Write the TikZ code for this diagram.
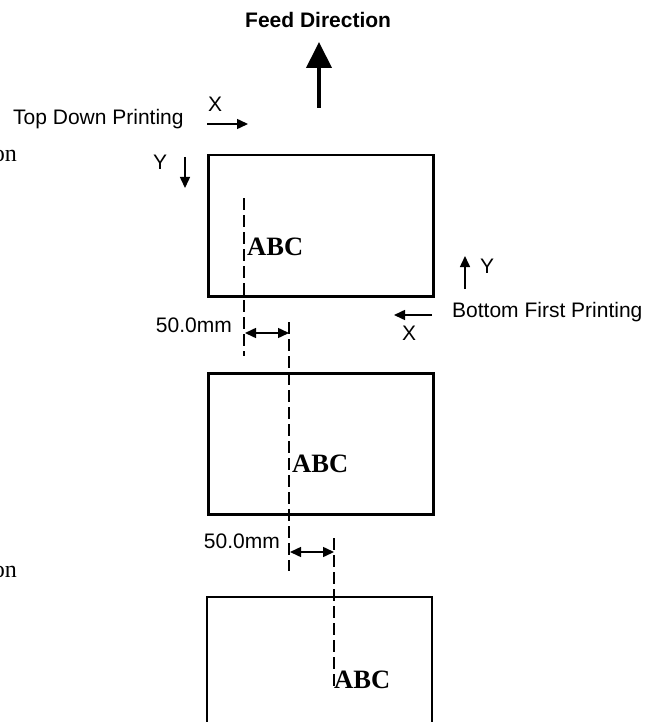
\documentclass[tikz,border=0pt]{standalone}
\usepackage{fontspec}
\setmainfont{Liberation Serif}
\setsansfont{Liberation Sans}
\usetikzlibrary{arrows.meta}
\begin{document}
\begin{tikzpicture}[x=1pt,y=-1pt,
  lbl/.style={inner sep=0pt,anchor=base west,font=\sffamily\fontsize{21}{21}\selectfont},
  abc/.style={inner sep=0pt,anchor=base west,font=\rmfamily\bfseries\fontsize{26.5}{26.5}\selectfont},
  cut/.style={inner sep=0pt,anchor=base east,font=\rmfamily\fontsize{24}{24}\selectfont},
  label box/.style={draw,line width=2.5pt},
  guide/.style={line width=1.4pt,dash pattern=on 12pt off 5pt},
  smallarrow/.style={line width=1.5pt,-{Triangle[length=11pt,width=10pt]}},
  dimarrow/.style={line width=1.5pt,{Triangle[length=11pt,width=10pt]}-{Triangle[length=11pt,width=10pt]}},
  feedarrow/.style={line width=4pt,-{Triangle[length=26pt,width=25pt]}}]
\useasboundingbox (0,0) rectangle (660,722);
% labels
\node[lbl,font=\sffamily\bfseries\fontsize{21}{21}\selectfont] (feed) at (245,28) {Feed Direction};
\node[lbl] (top) at (13,125) {Top Down Printing};
\node[lbl] (x1) at (208,112) {X};
\node[lbl] (y1) at (153,170) {Y};
\node[lbl] (y2) at (480,273) {Y};
\node[lbl] (bottom) at (452,317) {Bottom First Printing};
\node[lbl] (x2) at (402,340) {X};
\node[lbl,anchor=base east] (dim1) at (232,332) {50.0mm};
\node[lbl,anchor=base east] (dim2) at (280,548) {50.0mm};
\node[cut] (on1) at (17,162) {on};
\node[cut] (on2) at (17,577) {on};
% arrows
\coordinate (fa) at (319,108); \coordinate (fb) at (319,42);
\draw[feedarrow] (fa) -- (fb);
\coordinate (xa) at (207,124); \coordinate (xb) at (248,124);
\draw[smallarrow] (xa) -- (xb);
\coordinate (ya) at (185,157); \coordinate (yb) at (185,188);
\draw[smallarrow] (ya) -- (yb);
\coordinate (y2a) at (465,289); \coordinate (y2b) at (465,256);
\draw[smallarrow] (y2a) -- (y2b);
\coordinate (x2a) at (432,315); \coordinate (x2b) at (394,315);
\draw[smallarrow] (x2a) -- (x2b);
% boxes
\node[label box,anchor=north west,minimum width=225pt,minimum height=141pt,inner sep=0pt] (box1) at (207,154) {};
\node[label box,anchor=north west,minimum width=225pt,minimum height=141pt,inner sep=0pt] (box2) at (207,372) {};
\coordinate (b3a) at (207,724); \coordinate (b3b) at (207,597);
\coordinate (b3c) at (432,597); \coordinate (b3d) at (432,724);
\draw[line width=2.5pt] (b3a) -- (b3b) -- (b3c) -- (b3d);
% guides
\coordinate (g1a) at (244,198); \coordinate (g1b) at (244,356);
\coordinate (g2a) at (289,322); \coordinate (g2b) at (289,571);
\coordinate (g3a) at (334,538); \coordinate (g3b) at (334,690);
\draw[guide] (g1a) -- (g1b);
\draw[guide] (g2a) -- (g2b);
\draw[guide] (g3a) -- (g3b);
% dimension arrows
\coordinate (d1a) at (245,333); \coordinate (d1b) at (289,333);
\draw[dimarrow] (d1a) -- (d1b);
\coordinate (d2a) at (290,552); \coordinate (d2b) at (334,552);
\draw[dimarrow] (d2a) -- (d2b);
% ABC
\node[abc] (abc1) at (247,255) {ABC};
\node[abc] (abc2) at (292,472) {ABC};
\node[abc] (abc3) at (334,688) {ABC};
\end{tikzpicture}
\end{document}
